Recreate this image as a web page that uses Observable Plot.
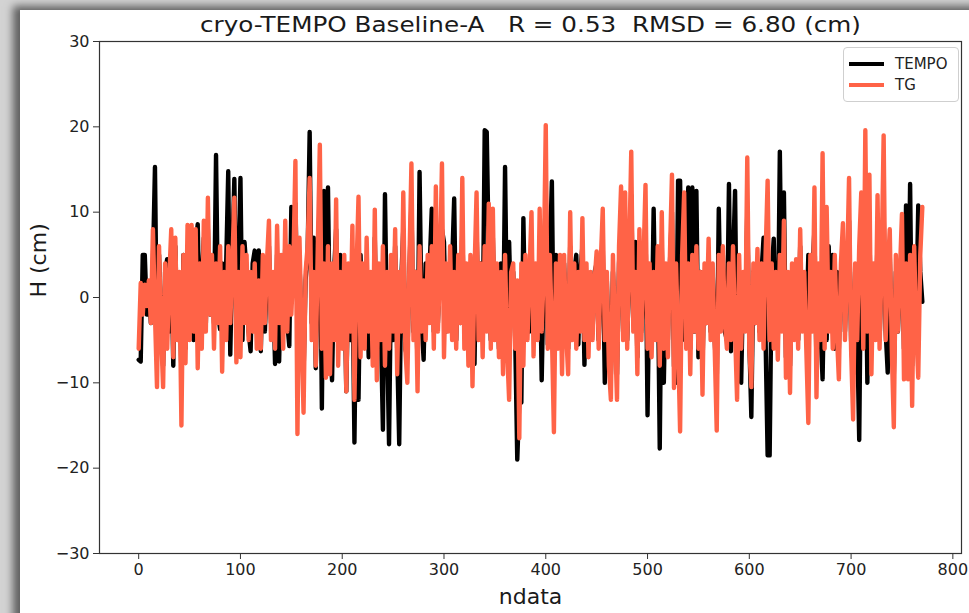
<!DOCTYPE html>
<html>
<head>
<meta charset="utf-8">
<script src="https://cdn.jsdelivr.net/npm/d3@7"></script>
<script src="https://cdn.jsdelivr.net/npm/@observablehq/plot@0.6"></script>
<style>
  html, body { margin: 0; padding: 0; background: #fff; }
  #wrap { position: relative; width: 969px; height: 613px; overflow: hidden; background: #d3d3d3; font-family: "DejaVu Sans", sans-serif; }
  #panel { position: absolute; left: 20px; top: 10px; right: -30px; bottom: -30px; background: #fff; box-shadow: -7px -4px 8px 0px rgba(0,0,0,0.55); }
  #chart { position: absolute; left: 0; top: 0; }
  #legend { position: absolute; left: 843px; top: 47px; width: 114px; height: 53px; border: 1px solid #cfcfcf; border-radius: 4px; background: #fff; font-size: 15px; color: #222; }
  .li { position: absolute; left: 0; height: 20px; width: 114px; }
  .li .sw { position: absolute; left: 5px; width: 35px; height: 4px; }
  .li .lb { position: absolute; left: 51px; line-height: 20px; }
</style>
</head>
<body>
<div id="wrap">
  <div id="panel"></div>
  <div id="chart"></div>
  <div id="legend"></div>
</div>
<script>
const titleText = "cryo-TEMPO Baseline-A   R = 0.53  RMSD = 6.80 (cm)";
const xLabel = "ndata";
const yLabel = "H (cm)";
const seriesNames = ["TEMPO", "TG"];
const seriesColors = ["#000000", "#ff6347"];
const xTicks = [0, 100, 200, 300, 400, 500, 600, 700, 800];
const yTicks = [-30, -20, -10, 0, 10, 20, 30];
const ndataStep = 2; // samples read every 2nd ndata

// TG (orange) at ndata = 0, 2, 4, ... 770
const tg = [
-6,1.7,-2,1.5,-1,2,-3,8,-2,-10.5,
6,-4,-10.5,4,-6,2,8,-7,7,-5,
3,-15,5,-7.7,8.5,-5,8.5,-4,8,-8.3,
4,-6,9,-4,11.7,-2,5,-6,4,-3,
6,-8.7,3,-5,6,-3,4,11.7,-7.6,3,
-7,6,-3,5,-5,3,-4,4,-6,2,
-6,5,-3,4,9,-5,3,-6,8.4,-3,
5,-6,9,-4,6,-2,4,16,-16,7,
-4,-13.5,3,6,14,-5,3,-8,6,17.9,
-6,4,-9.4,6,-9,4,-5,11.5,-8,3,
-6,5,-11,4,-4,8.4,-12,3,11.8,-7,
4,-6,7,-4,3,-8,10.3,-9.7,4,-5,
6,-8,3,-6,5,-4,8,-9,3,-4,
12.3,-6,-10,4,15.7,-5,3,-11,6,-4,
2,-5,5,-3,6,-6,13,-4,3,15.7,
-7,4,-4,6,-5,3,-6,5,-3,14,
-6,4,-8,5,-10.4,3,12.3,-5,4,-7,
6,-4,11,-6,10.4,-5,4,-7,3,-9,
5,-6,-12,3,4,-6,2,-16.5,4,-8,
5,-5,3,10,-6.9,4,-5,10.4,-4,3,
20.2,-6,5,-4,-15.8,4,-6,5,-9,5,
-4,-9,10,-5,4,-6,3,-4,9.3,-5,
4,-7,3,-5,2,5.4,-6,4,10.4,-5,
3,-8,-12,5,-4,-12,6,13,-5,12.3,
-6,5,17.1,-4,3,-9,8,-5,4,13.2,
-6,4,-7,3,-5,6,-8,10,-6,4,
-7,5,14.4,-10.6,4,-5,-15.7,5,12.3,-6,
4,-9,5,-4,6,-6,3,-11.4,4,-3,
6.9,-5,4,-6,-15.6,5,-4,6,-3,-6,
4,-5,6,-4,-12,5,-6,3,-4,16.4,
-6,-10.5,4,-3,5.7,-5,4,-6,5,13.7,
-5,4,-6,3,-7.3,5,-4,9,-9.4,3,
-11.2,4,-5,4.5,-6,8,-4,3,-6,-14.7,
5,-4,12.9,-11.7,4,-5,16.9,-6,10.6,-4,
3,-6,5,-4,-9.6,4,8.7,-5,3,14,
-6,-14.3,4,-5,6,12.3,-6,19.6,-4,14.4,
-9,4,-5,12,-6,4,19,-5,3,8,
-6,-15.2,5,-4,3,9.8,-9.6,4,-9.6,5,
-12.7,6,-4,-9.4,5,10.6
];

// TEMPO (black) at ndata = 0, 2, 4, ... 770
const tempo = [
-7.3,-7.5,5,5,-2,1,-3,4,15.3,-6,
5,-4,-8,3,4.5,-4,5,-8,6,-4,
2,-9,5,-6,6,-4,6,-5,6,8.6,
-4,2,7,-3,8,-2,4,-3,16.7,-2,
-3.7,4,-5,4,14.8,-6.7,5,13.9,-4,3,
14,-5,6.5,3,-4,-6.3,4,5.5,-4,5.5,
-6.3,4,-4,3,6,-3,2,-7.8,5,-7.5,
3,-4,6,-3,-5.7,10.6,2,11,-1,4,
-3,-9,2,5,19.4,-3,7,-8.3,4,12,
-13,12.5,-6,12.9,-5,-9.7,3,8,-5,5,
-4,3,-11,2,-5,4,-17,3,-12,5,
-5,3,4,-7,2,-6,7,-6,3,-4,
-15.5,12.1,-4,-17.2,3,-5,6,-6,-17.2,2,
8,-6,-7,3,11,-4,3,-8,14.7,-3,
-7.3,4,-3,4,10.4,-4,1,-3,3,8,
6.5,-4,3,-3,4,11.6,-5,4,-3,8,
-4,3,-5,4,-6,-7.8,8,-3,4,-5,
19.6,19.4,5,-5,7,-4,3,-6,4,-6,
15.3,-4,6.5,-3,3,-5,-19,-12,-12.3,9.3,
-4,4,-4,6,-4,3,-4,6,-9.7,3,
12,-5.5,5,13.6,-8,5,-5,4,-6,4,
-3,-6,6,-4,3,5,-5.5,3,6,-7.9,
3,-5,2,-4,3,4,-5,3,6,-10,
2,-6,-9,3,-3,-9,4,9,-4,8,
-5,3,12,-3,6.5,-7,5,-4,3,9,
-13.8,3,-5,10.4,-4,4,-17.7,6,-10,3,
-5,4,10,-8,-10,13.7,13.7,-5,8,-5,
12.9,-6,12.9,-4,12.5,-7,3,-8,3,-3,
5,-4,3,-5,-10,10.4,-3,5,-4,-5,
13.3,-6.3,4,12.5,-8,3,-10,2,-3,10,
-5,-14,3,-3,4,-4,3,7,-5,-18.5,
-18.5,3,6.9,-4,-5,17.1,-3,12.3,-7,2,
-8,3,-4,3,-5,6,-3,2,-4,5,
-3,3,8,-8,3,-4,-9.6,4,-5,6,
-3,5,-6,3,-6,3,5,-4,4,9,
-5,-9,3,-4,-16.7,8,-5,11,-10,8,
-6,3,-4,7,-5,3,10,-4,-8.8,5,
-5,-9,3,-4,2,6,-6,10.8,-5,13.3,
-8,4,-3,10.8,3,-0.5
];

const fmt = d => (d < 0 ? "\u2212" + Math.abs(d) : String(d));
const font = "DejaVu Sans";

const chart = Plot.plot({
  width: 969,
  height: 613,
  marginLeft: 99,
  marginRight: 8,
  marginTop: 41,
  marginBottom: 60,
  style: { background: "transparent", fontFamily: font, color: "#222" },
  x: { domain: [-38.5, 808.5] },
  y: { domain: [-30, 30] },
  marks: [
    Plot.line(tempo, { x: (d, i) => i * ndataStep, y: d => d, stroke: seriesColors[0], strokeWidth: 4.4, strokeLinejoin: "round" }),
    Plot.line(tg, { x: (d, i) => i * ndataStep, y: d => d, stroke: seriesColors[1], strokeWidth: 4.4, strokeLinejoin: "round" }),
    Plot.frame({ stroke: "#333", strokeWidth: 1.2 }),
    Plot.axisX({ ticks: xTicks, tickSize: 6, tickPadding: 4, fontSize: 16, tickFormat: fmt, label: null, stroke: "#333" }),
    Plot.axisY({ ticks: yTicks, tickSize: 6, tickPadding: 4, fontSize: 16, tickFormat: fmt, label: null, stroke: "#333" }),
    Plot.text([titleText], { frameAnchor: "top", dy: -17, fontSize: 22, lineAnchor: "middle", fill: "#1a1a1a" }),
    Plot.text([xLabel], { frameAnchor: "bottom", dy: 43, fontSize: 22, lineAnchor: "middle", fill: "#1a1a1a" }),
    Plot.text([yLabel], { frameAnchor: "left", dx: -61, rotate: -90, fontSize: 22, lineAnchor: "middle", fill: "#1a1a1a" })
  ]
});
document.getElementById("chart").appendChild(chart);

// stretch title to the reference width
d3.select(chart).selectAll("text").each(function () {
  if (this.textContent === titleText) {
    d3.select(this).attr("textLength", 661).attr("lengthAdjust", "spacingAndGlyphs");
  }
});

// legend
const legend = d3.select("#legend");
const rowTops = [6, 27];
seriesNames.forEach((name, k) => {
  const row = legend.append("div").attr("class", "li").style("top", rowTops[k] + "px");
  row.append("div").attr("class", "sw").style("top", "8px").style("background", seriesColors[k]);
  row.append("div").attr("class", "lb").text(name);
});
</script>
</body>
</html>
